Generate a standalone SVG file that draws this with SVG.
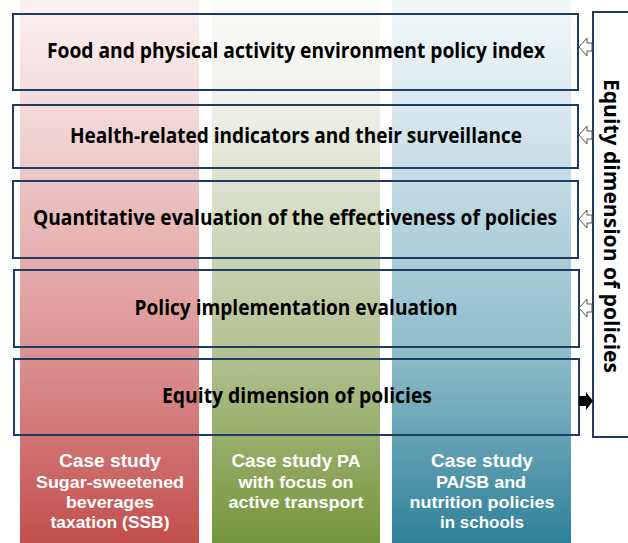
<svg xmlns="http://www.w3.org/2000/svg" width="628" height="543" viewBox="0 0 628 543">
<defs>
<linearGradient id="gr" x1="0" y1="0" x2="0" y2="1"><stop offset="0" stop-color="#fbf0f0"/><stop offset="0.2" stop-color="#f3dada"/><stop offset="0.65" stop-color="#dc9292"/><stop offset="1" stop-color="#c24f4d"/></linearGradient>
<linearGradient id="gg" x1="0" y1="0" x2="0" y2="1"><stop offset="0" stop-color="#fbfbf9"/><stop offset="0.2" stop-color="#eef0e8"/><stop offset="0.65" stop-color="#b3c192"/><stop offset="1" stop-color="#76953b"/></linearGradient>
<linearGradient id="gb" x1="0" y1="0" x2="0" y2="1"><stop offset="0" stop-color="#f2f7f9"/><stop offset="0.2" stop-color="#d9e8ee"/><stop offset="0.65" stop-color="#8ebccb"/><stop offset="1" stop-color="#2f8199"/></linearGradient>
</defs>
<style>
.box{fill:none;stroke:#1f3c64;stroke-width:2}
.t{font-family:"Open Sans","Liberation Sans",sans-serif;font-weight:bold;font-size:21px;fill:#000;text-anchor:middle}
.w{font-family:"Liberation Sans",sans-serif;font-weight:bold;font-size:17px;fill:#fff;text-anchor:middle}
.wl{font-size:18px}
.ha{fill:#fff;stroke:#555;stroke-width:1}
</style>
<rect width="628" height="543" fill="#fff"/>
<g id="columns">
<rect x="20" y="0" width="179" height="543" fill="url(#gr)"/>
<rect x="212" y="0" width="168" height="543" fill="url(#gg)"/>
<rect x="392" y="0" width="179" height="543" fill="url(#gb)"/>
</g>
<g id="case1">
<text class="w wl" x="110" y="467" textLength="102" lengthAdjust="spacingAndGlyphs">Case study</text>
<text class="w" x="110" y="488" textLength="148" lengthAdjust="spacingAndGlyphs">Sugar-sweetened</text>
<text class="w" x="110" y="508" textLength="88" lengthAdjust="spacingAndGlyphs">beverages</text>
<text class="w" x="110" y="528" textLength="119" lengthAdjust="spacingAndGlyphs">taxation (SSB)</text>
</g>
<g id="case2">
<text class="w" x="296" y="467" textLength="129" lengthAdjust="spacingAndGlyphs"><tspan class="wl">Case study</tspan> PA</text>
<text class="w" x="296" y="488" textLength="115" lengthAdjust="spacingAndGlyphs">with focus on</text>
<text class="w" x="296" y="508" textLength="135" lengthAdjust="spacingAndGlyphs">active transport</text>
</g>
<g id="case3">
<text class="w wl" x="482" y="467" textLength="102" lengthAdjust="spacingAndGlyphs">Case study</text>
<text class="w" x="481" y="488" textLength="90" lengthAdjust="spacingAndGlyphs">PA/SB and</text>
<text class="w" x="482" y="508" textLength="145" lengthAdjust="spacingAndGlyphs">nutrition policies</text>
<text class="w" x="482" y="528" textLength="84" lengthAdjust="spacingAndGlyphs">in schools</text>
</g>
<g id="box1"><rect class="box" x="13" y="14" width="565" height="76"/>
<text class="t" x="296" y="58" textLength="498" lengthAdjust="spacingAndGlyphs">Food and physical activity environment policy index</text></g>
<g id="box2"><rect class="box" x="13" y="105" width="565" height="63"/>
<text class="t" x="296" y="143" textLength="452" lengthAdjust="spacingAndGlyphs">Health-related indicators and their surveillance</text></g>
<g id="box3"><rect class="box" x="13" y="181" width="565" height="77"/>
<text class="t" x="295" y="225" textLength="524" lengthAdjust="spacingAndGlyphs">Quantitative evaluation of the effectiveness of policies</text></g>
<g id="box4"><rect class="box" x="14" y="270" width="565" height="77"/>
<text class="t" x="296" y="315" textLength="323" lengthAdjust="spacingAndGlyphs">Policy implementation evaluation</text></g>
<g id="box5"><rect class="box" x="14" y="359" width="565" height="76"/>
<text class="t" x="297" y="403" textLength="270" lengthAdjust="spacingAndGlyphs">Equity dimension of policies</text></g>
<g id="equity"><rect class="box" x="593" y="12" width="40" height="425" fill="#fff"/>
<text class="t" transform="translate(604,226) rotate(90)" x="0" y="0" style="font-size:22px" textLength="294" lengthAdjust="spacingAndGlyphs">Equity dimension of policies</text></g>
<g id="connectors">
<polygon class="ha" points="579,47 587,38 587,43 592,43 592,51 587,51 587,56"/>
<polygon class="ha" points="579,135 587,126 587,131 592,131 592,139 587,139 587,144"/>
<polygon class="ha" points="579,219 587,210 587,215 592,215 592,223 587,223 587,228"/>
<polygon class="ha" points="579,308 587,299 587,304 592,304 592,312 587,312 587,317"/>
<polygon fill="#000" points="593,401 586,392 586,396 579,396 579,406 586,406 586,410"/>
</g>
</svg>
